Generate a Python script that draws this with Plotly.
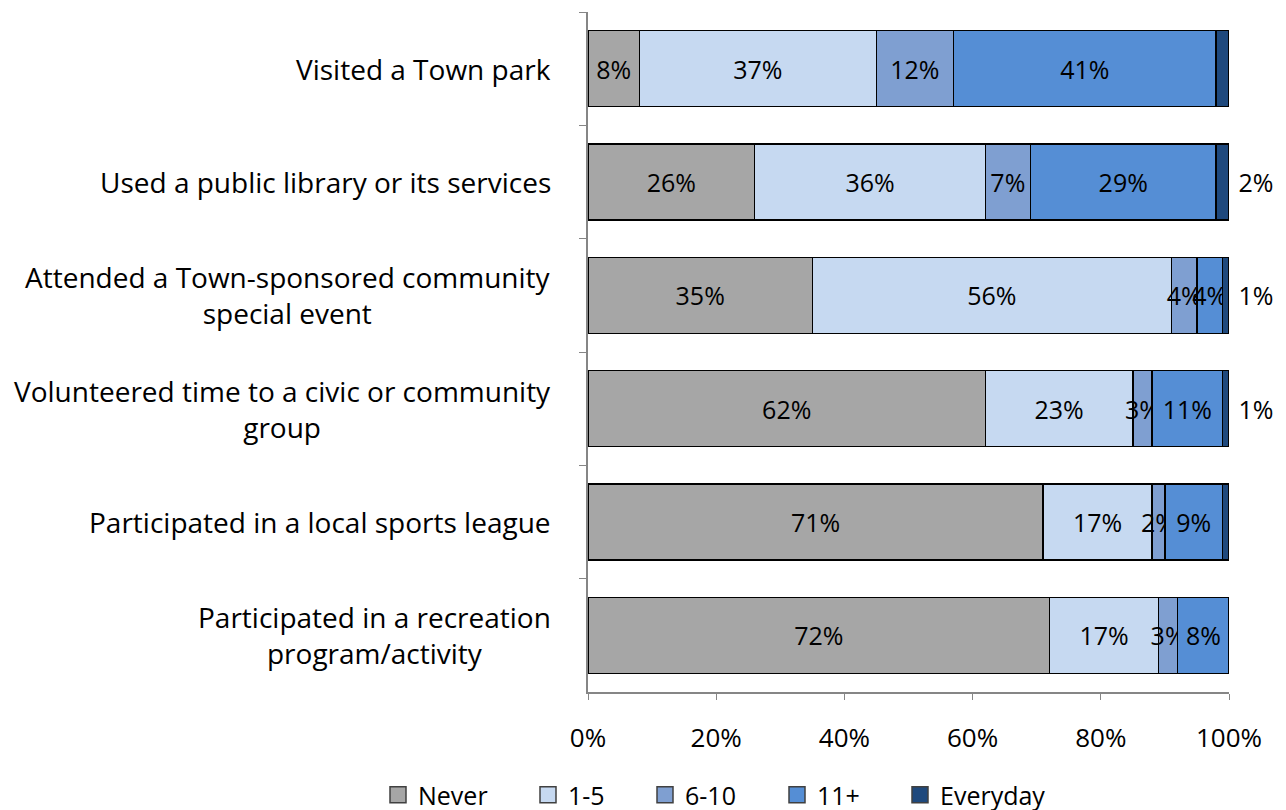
import plotly.graph_objects as go

# Survey activities, listed top to bottom
activities = [
    "Visited a Town park",
    "Used a public library or its services",
    "Attended a Town-sponsored community<br>special event",
    "Volunteered time to a civic or community<br>group",
    "Participated in a local sports league",
    "Participated in a recreation<br>program/activity",
]

frequency = ["Never", "1-5", "6-10", "11+", "Everyday"]

never = [8, 26, 35, 62, 71, 72]
one_to_five = [37, 36, 56, 23, 17, 17]
six_to_ten = [12, 7, 4, 3, 2, 3]
eleven_plus = [41, 29, 4, 11, 9, 8]
everyday = [2, 2, 1, 1, 1, 0]
# which Everyday values carry a printed label
everyday_labelled = [False, True, True, True, False, False]

series = [never, one_to_five, six_to_ten, eleven_plus, everyday]
colors = ["#A6A6A6", "#C6D9F1", "#7F9FD1", "#558ED5", "#1F497D"]

FONT = "'Open Sans', 'Noto Sans', sans-serif"
NBSP = "\u00a0"

# plot-area geometry in pixels
L, R, T, B = 588, 57, 12, 118
PLOT_W = 1286 - L - R
PLOT_H = 810 - T - B

# left edge (px) of each legend key box along the bottom row
legend_left = [378, 528, 645, 777, 900]
legend_mid_y = 795

fig = go.Figure()
for name, vals, col in zip(frequency, series, colors):
    if name == "Everyday":
        text = [NBSP + f"{v}%" if show else "" for v, show in zip(vals, everyday_labelled)]
        pos = "outside"
    else:
        text = [f"{v}%" if v > 0 else "" for v in vals]
        pos = "inside"
    fig.add_trace(go.Bar(
        y=activities, x=vals, name=name, orientation="h",
        marker=dict(color=col, line=dict(color="#000000", width=1.5)),
        text=text, textposition=pos, insidetextanchor="middle",
        textangle=0, constraintext="none", cliponaxis=False,
        textfont=dict(family=FONT, size=25, color="#000000"),
        showlegend=False, legendgroup=name, hoverinfo="skip",
    ))

# legend keys: filled squares with a dark outline, one small legend per key
legend_layouts = {}
for i, (name, col) in enumerate(zip(frequency, colors)):
    lname = "legend" if i == 0 else f"legend{i + 1}"
    fig.add_trace(go.Scatter(
        x=[None], y=[None], mode="markers", name=name, legendgroup=name,
        legend=lname,
        marker=dict(symbol="square", size=16, color=col,
                    line=dict(color="#404040", width=1.5)),
        hoverinfo="skip",
    ))
    legend_layouts[lname] = dict(
        orientation="h", xref="paper", yref="paper",
        x=(legend_left[i] - L) / PLOT_W, xanchor="left",
        y=-(legend_mid_y - (T + PLOT_H)) / PLOT_H, yanchor="middle",
        font=dict(family=FONT, size=25), itemsizing="trace",
        bgcolor="rgba(0,0,0,0)",
    )

# category labels drawn as centred multi-line annotations left of the axis
for act in activities:
    fig.add_annotation(
        x=0, y=act, xref="paper", yref="y", text=act, showarrow=False,
        xanchor="right", yanchor="middle", align="center", xshift=-35,
        font=dict(family=FONT, size=28, color="#000000"),
    )

fig.update_layout(
    barmode="stack", bargap=0.33,
    width=1286, height=810,
    margin=dict(l=L, r=R, t=T, b=B, autoexpand=False),
    paper_bgcolor="white", plot_bgcolor="white",
    font=dict(family=FONT, size=26, color="#000000"),
    xaxis=dict(
        range=[0, 100], dtick=20, ticksuffix="%", showgrid=False, zeroline=False,
        showline=True, linecolor="#868686", linewidth=1.5, automargin=False,
        ticks="outside", ticklen=6, tickcolor="#868686",
        ticklabelstandoff=16, tickfont=dict(family=FONT, size=26),
    ),
    yaxis=dict(
        autorange="reversed", showticklabels=False, showgrid=False,
        showline=True, linecolor="#868686", linewidth=1.5, automargin=False,
        ticks="outside", ticklen=7, tickcolor="#868686", tickson="boundaries",
    ),
    **legend_layouts,
)

fig.write_html("out.html")
